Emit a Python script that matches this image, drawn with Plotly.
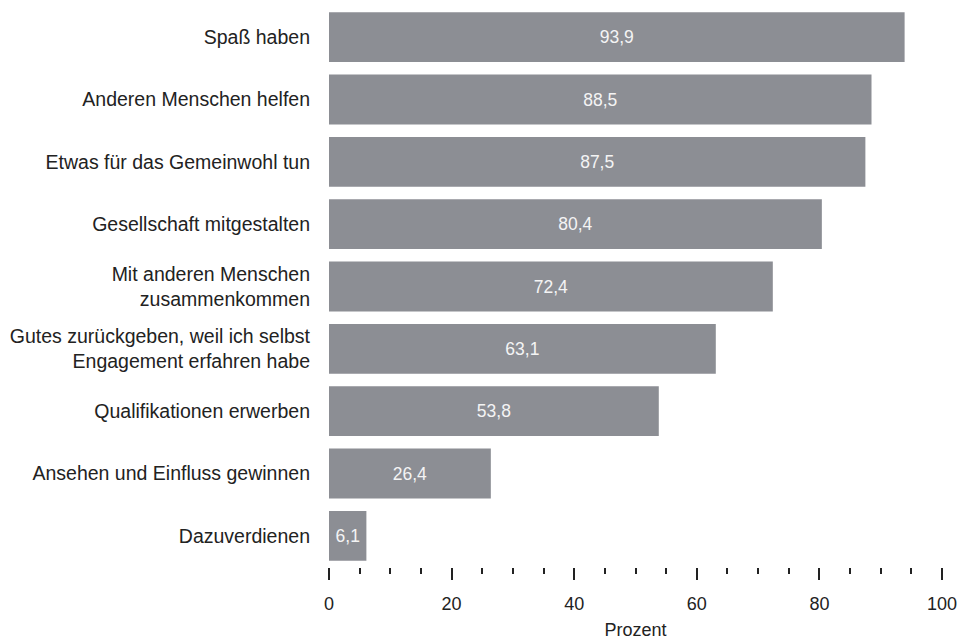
import plotly.graph_objects as go

categories = [
    "Spaß haben",
    "Anderen Menschen helfen",
    "Etwas für das Gemeinwohl tun",
    "Gesellschaft mitgestalten",
    "Mit anderen Menschen<br>zusammenkommen",
    "Gutes zurückgeben, weil ich selbst<br>Engagement erfahren habe",
    "Qualifikationen erwerben",
    "Ansehen und Einfluss gewinnen",
    "Dazuverdienen",
]
values = [93.9, 88.5, 87.5, 80.4, 72.4, 63.1, 53.8, 26.4, 6.1]
labels = [f"{v:.1f}".replace(".", ",") for v in values]

fig = go.Figure()
fig.add_trace(go.Bar(
    y=categories, x=values, orientation="h",
    marker=dict(color="#8c8e94", line=dict(width=0)),
    text=labels, textposition="inside", insidetextanchor="middle",
    textfont=dict(color="#f4f4f4", size=17.5, family="Liberation Sans, Arial"),
    width=0.8,
    hoverinfo="skip",
))

fig.update_layout(
    width=963, height=644,
    margin=dict(l=329, r=21, t=6, b=77),
    plot_bgcolor="white", paper_bgcolor="white",
    font=dict(family="Liberation Sans, Arial", size=18, color="#222222"),
    showlegend=False,
    uniformtext=dict(minsize=17, mode="show"),
)
fig.update_yaxes(autorange="reversed", showgrid=False, ticks="", showline=False,
                 automargin=False, ticklabelstandoff=18, tickfont=dict(size=19.5))
fig.update_xaxes(range=[0, 100], showgrid=False, zeroline=False, showline=False,
                 automargin=False,
                 ticks="outside", ticklen=12, tickwidth=2, tickcolor="#222222",
                 dtick=20, tickfont=dict(size=18), ticklabelstandoff=8,
                 minor=dict(dtick=5, ticks="outside", ticklen=6, tickwidth=2, tickcolor="#222222"),
                 title=dict(text="Prozent", font=dict(size=18), standoff=10))

# drop the default 8px body margin so the figure fills the window
fig.write_html("out.html", config={"displayModeBar": False},
               post_script="document.body.style.margin = '0';")
